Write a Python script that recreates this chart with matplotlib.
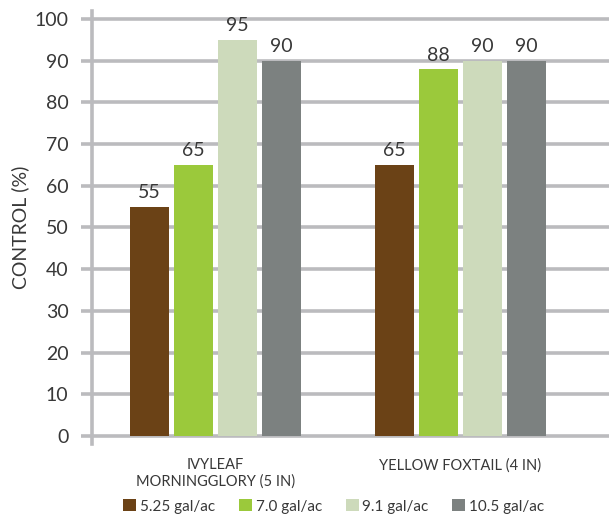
import matplotlib
matplotlib.use("Agg")
import matplotlib.pyplot as plt
import numpy as np

plt.rcParams['font.family'] = ['Lato', 'DejaVu Sans']

categories = ['IVYLEAF\nMORNINGGLORY (5 IN)', 'YELLOW FOXTAIL (4 IN)']
rates = ['5.25 gal/ac', '7.0 gal/ac', '9.1 gal/ac', '10.5 gal/ac']
control = [
    [55, 65],   # 5.25 gal/ac
    [65, 88],   # 7.0 gal/ac
    [95, 90],   # 9.1 gal/ac
    [90, 90],   # 10.5 gal/ac
]
colors = ['#6b4216', '#9bc93b', '#cddabb', '#7c8180']
yticks = list(range(0, 101, 10))

text_color = '#383838'
grid_color = '#bbbbbe'

fig = plt.figure(figsize=(6.09, 5.15), dpi=100)
ax = fig.add_axes([92 / 609, 70.7 / 515, 1 - 92 / 609, (504.3 - 70.7) / 515])

x = np.arange(len(categories))
step = 0.1796
width = 0.159
for i, (rate, vals, c) in enumerate(zip(rates, control, colors)):
    bars = ax.bar(x + (i - 1.5) * step, vals, width, color=c, label=rate, zorder=3)
    ax.bar_label(bars, padding=4, fontsize=14, color=text_color)

ax.set_xlim(-0.504, 1.606)
ax.set_ylim(-2, 102)
ax.set_yticks(yticks)
ax.set_yticklabels([str(t) for t in yticks], fontsize=14, color=text_color)
ax.yaxis.grid(True, color=grid_color, linewidth=2.6, zorder=0)
ax.tick_params(axis='y', length=8, width=2.6, color=grid_color, pad=9)
ax.set_xticks(x)
ax.set_xticklabels(categories, fontsize=10.5, color=text_color, linespacing=1.2)
ax.tick_params(axis='x', length=0, pad=10)

for s in ['top', 'right', 'bottom']:
    ax.spines[s].set_visible(False)
ax.spines['left'].set_color(grid_color)
ax.spines['left'].set_linewidth(2.6)

ax.set_ylabel('CONTROL (%)', fontsize=14, color=text_color, labelpad=4)

fig.legend(loc='lower center', bbox_to_anchor=(0.548, -0.024), ncol=4, frameon=False,
           fontsize=11, handlelength=0.85, handleheight=0.85, handletextpad=0.25,
           columnspacing=1.55, labelcolor=text_color)

fig.savefig('out.png', dpi=100)
